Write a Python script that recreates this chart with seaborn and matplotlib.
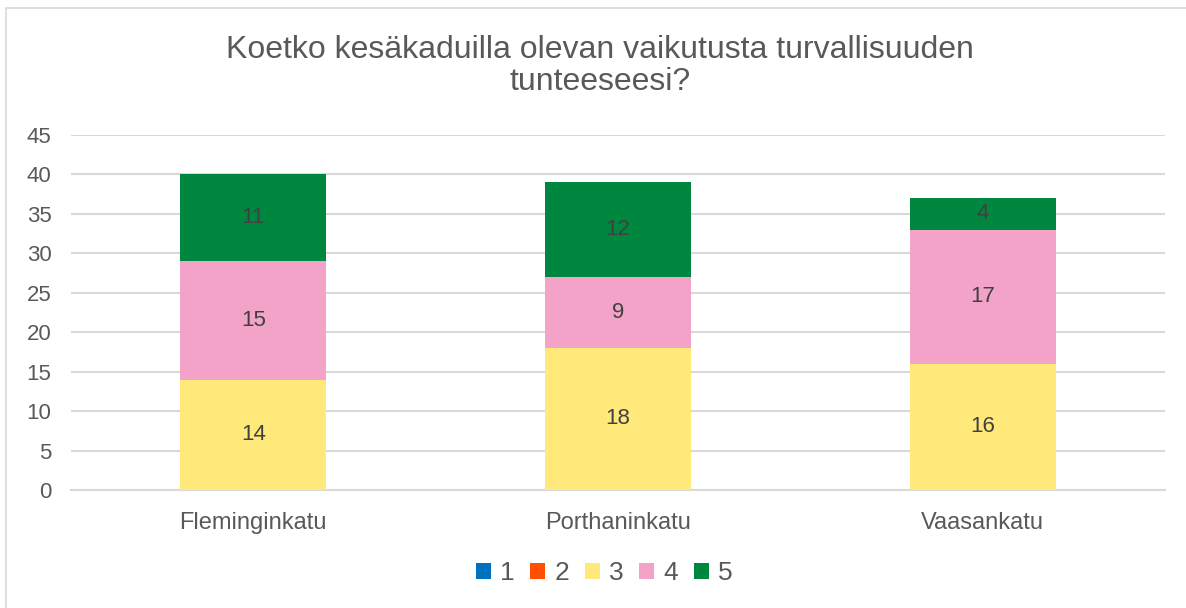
import matplotlib
matplotlib.use("Agg")
import matplotlib.pyplot as plt
from matplotlib.patches import Rectangle, Patch
import numpy as np
import pandas as pd
import seaborn as sns

# Survey results: counts per answer (1-5) for each street
streets = ["Fleminginkatu", "Porthaninkatu", "Vaasankatu"]
answer_levels = ["1", "2", "3", "4", "5"]
counts_1 = [0, 0, 0]
counts_2 = [0, 0, 0]
counts_3 = [14, 18, 16]
counts_4 = [15, 9, 17]
counts_5 = [11, 12, 4]
y_ticks = [0, 5, 10, 15, 20, 25, 30, 35, 40, 45]
title = "Koetko kesäkaduilla olevan vaikutusta turvallisuuden\ntunteeseesi?"

colors = ["#0070C0", "#FF5000", "#FFE97A", "#F4A3C8", "#00873F"]
text_color = "#595959"

sns.set_theme(style="white")
plt.rcParams["font.family"] = ["Liberation Sans", "DejaVu Sans"]

fig = plt.figure(figsize=(11.86, 6.08), dpi=100)
ax = fig.add_axes([71 / 1186, 1 - 490 / 608, (1165 - 71) / 1186, (490 - 135) / 608])

# Outer chart frame (runs past the right and bottom edges)
frame_top = 1 - 8 / 608
fig.patches.append(Rectangle((6 / 1186, -0.05), 1.1, frame_top + 0.05,
                             transform=fig.transFigure, fill=False,
                             edgecolor="#D9D9D9", linewidth=1.2))

df = pd.DataFrame({"street": streets, "1": counts_1, "2": counts_2,
                   "3": counts_3, "4": counts_4, "5": counts_5})

bottom = np.zeros(len(streets))
for level, color in zip(answer_levels, colors):
    vals = df[level].to_numpy(dtype=float)
    sns.barplot(data=df, x="street", y=level, color=color, width=0.4,
                bottom=bottom, ax=ax, saturation=1, linewidth=0, zorder=3)
    container = ax.containers[-1]
    labels = [f"{int(v)}" if v > 0 else "" for v in vals]
    ax.bar_label(container, labels=labels, label_type="center",
                 fontsize=16, color="#404040")
    bottom = bottom + vals

ax.set_ylim(0, 45)
ax.set_xlim(-0.5, 2.5)
ax.set_yticks(y_ticks)
ax.set_xlabel("")
ax.set_ylabel("")
ax.yaxis.grid(True, color="#D9D9D9", linewidth=1.5, zorder=0)
ax.set_axisbelow(True)
for s in ["left", "right", "top"]:
    ax.spines[s].set_visible(False)
ax.spines["bottom"].set_color("#D9D9D9")
ax.spines["bottom"].set_linewidth(1.5)
ax.tick_params(axis="y", labelsize=16, labelcolor=text_color, length=0, pad=14)
ax.tick_params(axis="x", labelsize=17, labelcolor=text_color, length=0, pad=16)

fig.text(600 / 1186, 1 - 66 / 608, title, ha="center", va="center",
         fontsize=23, color=text_color, linespacing=1.08)

handles = [Patch(facecolor=c, edgecolor="none") for c in colors]
fig.legend(handles, answer_levels, loc="center", bbox_to_anchor=(604 / 1186, 1 - 573 / 608),
           ncol=5, frameon=False, fontsize=19, labelcolor=text_color,
           handlelength=0.57, handleheight=0.57, handletextpad=0.34, columnspacing=0.6)

fig.savefig("out.png", dpi=100)
